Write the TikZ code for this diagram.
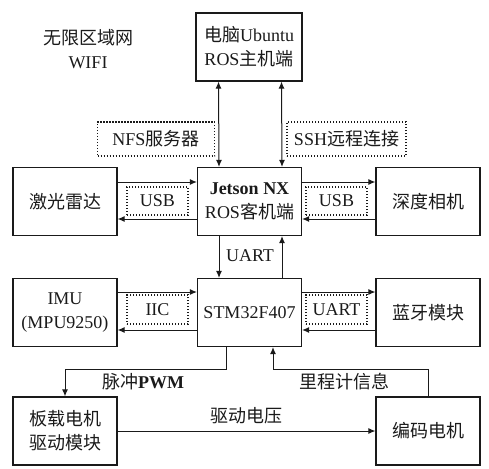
\documentclass[tikz,border=0pt]{standalone}
\usepackage{fontspec,xcolor,tikz}
\setmainfont{Liberation Serif}
\newfontfamily\cjk{Noto Sans CJK SC}
\usetikzlibrary{arrows.meta,positioning}
\definecolor{ink}{HTML}{1A1A1A}
\newcommand{\zh}[1]{{\cjk #1}}
\newcommand{\lbl}{\fontsize{18}{24}\selectfont}
\tikzset{modul/.style={draw=ink,line width=1.2pt,minimum width=104pt,minimum height=68pt,
    align=center,inner sep=0,text=ink,font=\lbl},
  notiz/.style={draw=ink,line width=1.1pt,dash pattern=on 1.4pt off 1.6pt,minimum width=61pt,
    minimum height=28pt,inner sep=0,text=ink,font=\lbl},
  pfeil/.style={ink,line width=1pt,-{Latex[length=7pt,width=6pt]}},
  beschrift/.style={inner sep=0,text=ink,font=\lbl}}
\begin{document}
\begin{tikzpicture}[x=1pt,y=-1pt]
\useasboundingbox (0,0) rectangle (489,468);
\node[beschrift,align=center] (wifi) at (88,49) {\zh{无限区域网}\\WIFI};
\node[modul,minimum width=106pt] (pc) at (249,47) {\zh{电脑}Ubuntu\\ROS\zh{主机端}};
\node[modul] (jetson) at (249.5,201.5) {\textbf{Jetson NX}\\ROS\zh{客机端}};
\node[modul] (lidar) at (65,201.5) {\zh{激光雷达}};
\node[modul] (kamera) at (428,201.5) {\zh{深度相机}};
\node[modul] (stm) at (249.5,312.5) {STM32F407};
\node[modul] (imu) at (65,312.5) {IMU\\(MPU9250)};
\node[modul] (bt) at (428,312.5) {\zh{蓝牙模块}};
\node[modul] (treiber) at (65,431) {\zh{板载电机}\\\zh{驱动模块}};
\node[modul] (motor) at (428,431) {\zh{编码电机}};
% gestrichelte Hinweise
\node[notiz,minimum width=117pt,minimum height=34pt] (nfs) at (156,139) {NFS\zh{服务器}};
\node[notiz,minimum width=119pt,minimum height=34pt] (ssh) at (346.5,139) {SSH\zh{远程连接}};
\node[notiz] (usbl) at (157.5,201) {USB};
\node[notiz] (usbr) at (336.5,201) {USB};
\node[notiz,minimum height=29pt] (iic) at (157.5,309.5) {IIC};
\node[notiz,minimum height=29pt] (uartr) at (336.5,309.5) {UART};
% Verbindungen
\draw[pfeil,{Latex[length=7pt,width=6pt]}-{Latex[length=7pt,width=6pt]}] ([xshift=-30.5pt]pc.south) -- ([xshift=-30.5pt]jetson.north);
\draw[pfeil,{Latex[length=7pt,width=6pt]}-{Latex[length=7pt,width=6pt]}] ([xshift=32.5pt]pc.south) -- ([xshift=32.5pt]jetson.north);
\draw[pfeil] ([yshift=19.5pt]lidar.east) -- ([yshift=19.5pt]jetson.west);
\draw[pfeil] ([yshift=-17.5pt]jetson.west) -- ([yshift=-17.5pt]lidar.east);
\draw[pfeil] ([yshift=19.5pt]jetson.east) -- ([yshift=19.5pt]kamera.west);
\draw[pfeil] ([yshift=-17.5pt]kamera.west) -- ([yshift=-17.5pt]jetson.east);
\draw[pfeil] ([xshift=-30.5pt]jetson.south) -- ([xshift=-30.5pt]stm.north);
\draw[pfeil] ([xshift=32.5pt]stm.north) -- ([xshift=32.5pt]jetson.south);
\node[beschrift] (uart) at (250,256) {UART};
\draw[pfeil] ([yshift=20.5pt]imu.east) -- ([yshift=20.5pt]stm.west);
\draw[pfeil] ([yshift=-17.5pt]stm.west) -- ([yshift=-17.5pt]imu.east);
\draw[pfeil] ([yshift=20.5pt]stm.east) -- ([yshift=20.5pt]bt.west);
\draw[pfeil] ([yshift=-17.5pt]bt.west) -- ([yshift=-17.5pt]stm.east);
\coordinate (pwmknick) at (226,369);
\coordinate (odoknick) at (273,369);
\draw[pfeil] (stm.south -| pwmknick) -- (pwmknick) -| (treiber.north);
\draw[pfeil] (motor.north) |- (odoknick) -- (stm.south -| odoknick);
\node[beschrift] (pwm) at (143,382) {\zh{脉冲}\textbf{PWM}};
\node[beschrift] (odo) at (344,382) {\zh{里程计信息}};
\draw[pfeil] (treiber.east) -- node[beschrift,above=7pt] (spannung) {\zh{驱动电压}} (motor.west);
\end{tikzpicture}
\end{document}
